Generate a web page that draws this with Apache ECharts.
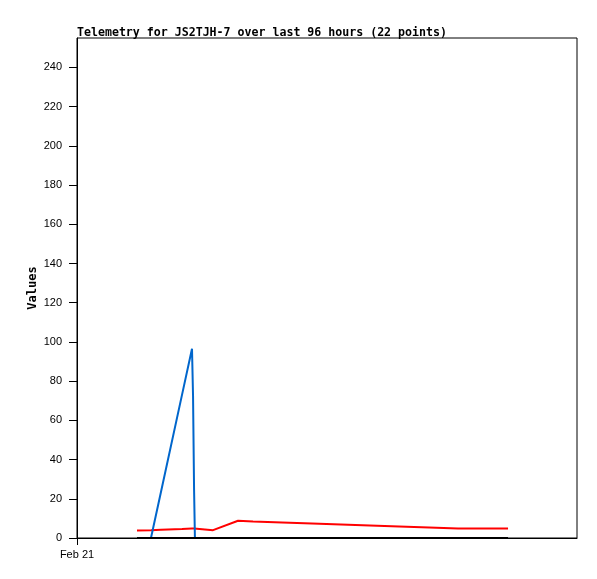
<!DOCTYPE html>
<html>
<head>
<meta charset="utf-8">
<script src="https://cdn.jsdelivr.net/npm/echarts@6/dist/echarts.min.js"></script>
<style>html,body{margin:0;padding:0;background:#fff}#c{width:597px;height:579px}</style>
</head>
<body>
<div id="c"></div>
<script>
// Hours since Feb 21 00:00
var hours = [2.88, 3.55, 4.03, 5.04, 5.52, 5.57, 5.62, 5.66, 6.53, 7.73, 8.45, 9.84, 11.28, 12.67, 14.06, 15.46, 16.90, 18.29, 18.86, 19.49, 20.06, 20.69];
var redValues = [3.8, 4.0, 4.2, 4.6, 4.8, 4.8, 4.8, 4.0, 4.0, 8.8, 8.4, 7.9, 7.4, 6.9, 6.4, 5.9, 5.4, 4.9, 4.8, 4.8, 4.8, 4.8];
var blueValues = [0, 0, 23.5, 73.0, 96.5, 72.5, 24.5, 0, 0, 0, 0, 0, 0, 0, 0, 0, 0, 0, 0, 0, 0, 0];
var blackValues = [0, 0, 0, 0, 0, 0, 0, 0, 0, 0, 0, 0, 0, 0, 0, 0, 0, 0, 0, 0, 0, 0];
var yTicks = [0, 20, 40, 60, 80, 100, 120, 140, 160, 180, 200, 220, 240];
var xLabel = 'Feb 21';

function pairs(v) { return hours.map(function (h, i) { return [h, v[i]]; }); }

var chart = echarts.init(document.getElementById('c'), null, {renderer: 'canvas'});
chart.setOption({
  animation: false,
  title: {
    text: 'Telemetry for JS2TJH-7 over last 96 hours (22 points)',
    left: 77, top: 27, padding: 0,
    textStyle: {fontFamily: 'DejaVu Sans Mono', fontWeight: 'bold', fontSize: 11.6, color: '#000'}
  },
  grid: {left: 77, top: 38, right: 20, bottom: 41, show: true, borderColor: '#000', borderWidth: 1, backgroundColor: 'transparent'},
  xAxis: {
    type: 'value', min: 0, max: 24, interval: 24,
    axisLine: {show: true, lineStyle: {color: '#000', width: 1}},
    axisTick: {show: true, length: 7, customValues: [0], lineStyle: {color: '#000'}},
    axisLabel: {customValues: [0], formatter: function () { return xLabel; }, margin: 11, color: '#000', fontSize: 11, fontFamily: 'Liberation Sans'},
    splitLine: {show: false}
  },
  yAxis: {
    type: 'value', min: 0, max: 255, interval: 20,
    name: 'Values', nameLocation: 'middle', nameGap: 38, nameMoveOverlap: false,
    nameTextStyle: {fontFamily: 'DejaVu Sans Mono', fontWeight: 'bold', fontSize: 12, color: '#000'},
    axisLine: {show: true, lineStyle: {color: '#000', width: 1}},
    axisTick: {show: true, length: 8, customValues: yTicks, lineStyle: {color: '#000'}},
    axisLabel: {customValues: yTicks, margin: 15, color: '#000', fontSize: 11, fontFamily: 'Liberation Sans'},
    splitLine: {show: false}
  },
  series: [
    {type: 'line', data: pairs(redValues), showSymbol: false, lineStyle: {color: '#ff0000', width: 2}, itemStyle: {color: '#ff0000'}},
    {type: 'line', data: pairs(blueValues), showSymbol: false, lineStyle: {color: '#0066cc', width: 2}, itemStyle: {color: '#0066cc'}},
    {type: 'line', data: pairs(blackValues), showSymbol: false, lineStyle: {color: '#000000', width: 2}, itemStyle: {color: '#000'}}
  ]
});
</script>
</body>
</html>
